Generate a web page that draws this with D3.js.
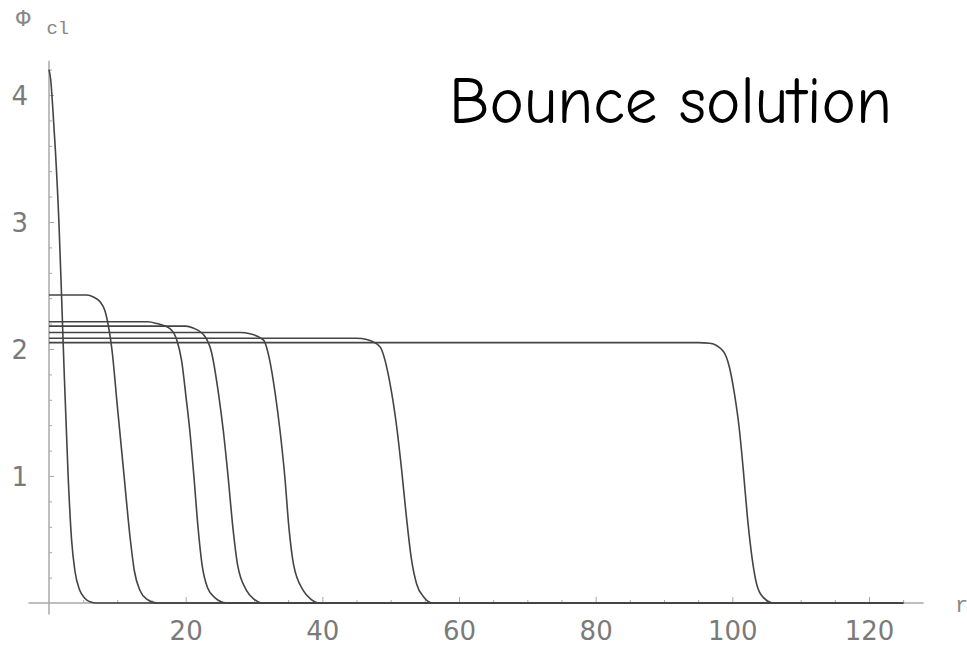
<!DOCTYPE html>
<html>
<head>
<meta charset="utf-8">
<script src="https://cdn.jsdelivr.net/npm/d3@7"></script>
<style>
  body { margin: 0; background: #fff; }
</style>
</head>
<body>
<div id="vis"></div>
<script>
// SVG dims
var width = 967;
var height = 651;

// Bounce profiles phi(r) as [r, phi] pairs
var peakCurve = [[0, 4.2], [0.25, 4.12], [0.55, 3.9], [0.95, 3.55], [1.45, 3.0], [1.85, 2.4], [2.2, 1.85],
    [2.8, 1.0], [3.3, 0.5], [3.8, 0.25], [4.5, 0.1], [5.2, 0.04], [6, 0.01], [7, 0], [125, 0]];
var wall1 = [[0, 2.425], [5.5, 2.425], [6.5, 2.41], [7.5, 2.37], [8.2, 2.3], [8.7, 2.18], [9.2, 2.0],
    [10, 1.55], [10.9, 1.05], [11.9, 0.5], [12.5, 0.25], [13.3, 0.1], [14.3, 0.03], [15.8, 0], [125, 0]];
var wall2 = [[0, 2.215], [14.5, 2.215], [15.8, 2.2], [17.7, 2.16], [18.7, 2.07], [19.4, 1.91], [20.1, 1.6],
    [20.6, 1.36], [21.2, 1.0], [21.8, 0.6], [22.4, 0.3], [23.2, 0.12], [24.3, 0.04], [26, 0], [125, 0]];
var wall3 = [[0, 2.18], [20, 2.18], [21.1, 2.165], [22.8, 2.1], [23.8, 1.97], [24.8, 1.65], [25.5, 1.36],
    [26.2, 1.0], [26.9, 0.6], [27.6, 0.3], [28.9, 0.1], [30, 0.03], [31.3, 0], [125, 0]];
var wall4 = [[0, 2.13], [28, 2.13], [29.4, 2.12], [31.4, 2.07], [32.3, 1.91], [33.1, 1.65], [33.8, 1.36],
    [34.5, 1.0], [35.1, 0.6], [35.8, 0.3], [37.2, 0.1], [38.3, 0.03], [39.6, 0], [125, 0]];
var wall5 = [[0, 2.085], [45, 2.085], [46.5, 2.075], [48.4, 2.02], [49.9, 1.73], [50.9, 1.38], [51.6, 1.05],
    [52.3, 0.68], [53.0, 0.36], [53.8, 0.15], [54.8, 0.05], [56.2, 0], [125, 0]];
var wall6 = [[0, 2.05], [95, 2.05], [96.7, 2.045], [98.7, 1.98], [99.6, 1.85], [100.3, 1.65], [101.0, 1.38],
    [101.6, 1.05], [102.2, 0.68], [102.9, 0.35], [103.6, 0.14], [104.6, 0.04], [106, 0], [125, 0]];
var curves = [peakCurve, wall1, wall2, wall3, wall4, wall5, wall6];

// Tick values
var xTicks = [20, 40, 60, 80, 100, 120];
var xMinor = [5, 10, 15, 25, 30, 35, 45, 50, 55, 65, 70, 75, 85, 90, 95, 105, 110, 115, 125];
var yTicks = [1, 2, 3, 4];
var yMinor = [0.2, 0.4, 0.6, 0.8, 1.2, 1.4, 1.6, 1.8, 2.2, 2.4, 2.6, 2.8, 3.2, 3.4, 3.6, 3.8, 4.2];

var svg = d3.select("#vis").append("svg")
    .attr("width", width)
    .attr("height", height)
    .style("background", "#fff");

// Scales
var xScale = d3.scaleLinear().domain([0, 120]).range([49, 869]);
var yScale = d3.scaleLinear().domain([0, 4]).range([603, 95]);

var axisColor = "#a8a8a8";
var labelColor = "#7a7a7a";

// axis lines
svg.append("line")
    .attr("x1", xScale(-3)).attr("x2", xScale(128))
    .attr("y1", yScale(0)).attr("y2", yScale(0))
    .attr("stroke", axisColor).attr("stroke-width", 1.5);
svg.append("line")
    .attr("x1", xScale(0)).attr("x2", xScale(0))
    .attr("y1", yScale(-0.09)).attr("y2", yScale(4.27))
    .attr("stroke", axisColor).attr("stroke-width", 1.5);

// x axis ticks (pointing up into the plot)
var xAxis = svg.append("g")
    .attr("transform", "translate(0," + yScale(0) + ")")
    .call(d3.axisBottom(xScale).tickValues(xTicks).tickFormat(d3.format("d"))
        .tickSizeInner(-6).tickSizeOuter(0).tickPadding(19));
svg.append("g")
    .attr("transform", "translate(0," + yScale(0) + ")")
    .call(d3.axisBottom(xScale).tickValues(xMinor).tickSizeInner(-3).tickSizeOuter(0).tickFormat(""))
    .call(function(g) { g.select(".domain").remove(); })
    .selectAll("line").attr("stroke", axisColor);

// y axis ticks (pointing right into the plot)
var yAxis = svg.append("g")
    .attr("transform", "translate(" + xScale(0) + ",0)")
    .call(d3.axisLeft(yScale).tickValues(yTicks).tickFormat(d3.format("d"))
        .tickSizeInner(-5).tickSizeOuter(0).tickPadding(21));
svg.append("g")
    .attr("transform", "translate(" + xScale(0) + ",0)")
    .call(d3.axisLeft(yScale).tickValues(yMinor).tickSizeInner(-3).tickSizeOuter(0).tickFormat(""))
    .call(function(g) { g.select(".domain").remove(); })
    .selectAll("line").attr("stroke", axisColor);

[xAxis, yAxis].forEach(function(g) {
    g.select(".domain").remove();
    g.selectAll("line").attr("stroke", axisColor);
    g.selectAll("text")
        .attr("fill", labelColor)
        .style("font-family", "'DejaVu Sans', sans-serif")
        .style("font-size", "26px");
});
yAxis.selectAll("text").attr("dy", "0.36em");

// curves
var line = d3.line()
    .x(function(d) { return xScale(d[0]); })
    .y(function(d) { return yScale(d[1]); })
    .curve(d3.curveMonotoneX);

svg.selectAll("path.bounce")
    .data(curves).enter()
    .append("path")
    .attr("class", "bounce")
    .attr("d", line)
    .attr("fill", "none")
    .attr("stroke", "#444")
    .attr("stroke-width", 1.6);

// axis labels
var phi = svg.append("text")
    .attr("x", 16).attr("y", 26)
    .attr("fill", "#888")
    .style("font-family", "'Liberation Mono', monospace");
phi.append("tspan").style("font-size", "24px").text("Φ");
phi.append("tspan").attr("dx", 16).attr("dy", 8).style("font-size", "19px").text("cl");

svg.append("text")
    .attr("x", 955).attr("y", 612)
    .attr("fill", "#888")
    .style("font-family", "'Liberation Mono', monospace")
    .style("font-size", "22px")
    .text("r");

// title
svg.append("text")
    .attr("x", 449).attr("y", 123)
    .attr("textLength", 443)
    .attr("lengthAdjust", "spacingAndGlyphs")
    .attr("fill", "#000")
    .style("font-family", "'Comic Sans MS', 'Comic Neue', 'Open Sans', sans-serif")
    .style("font-size", "66px")
    .text("Bounce solution");
</script>
</body>
</html>
